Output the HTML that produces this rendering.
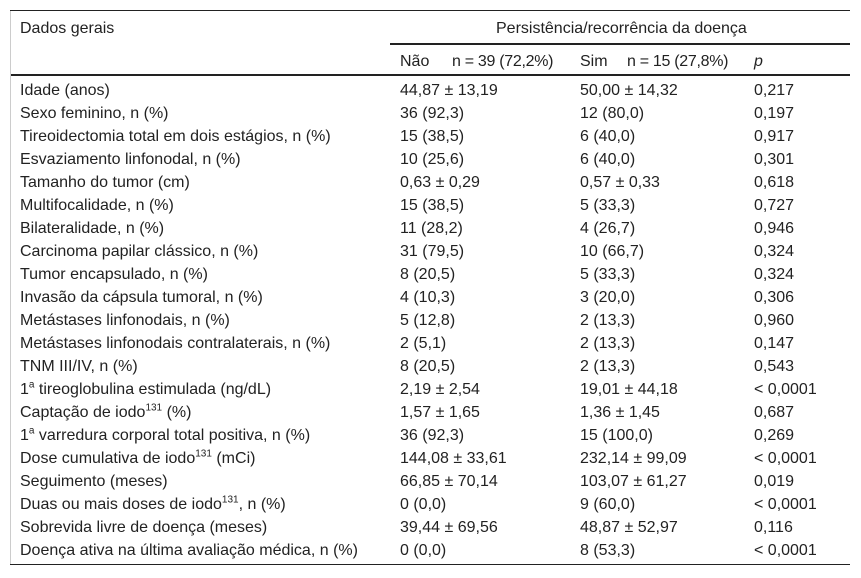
<!DOCTYPE html>
<html><head><meta charset="utf-8"><style>
body{margin:0;width:861px;height:578px;background:#fff;font-family:"Liberation Sans",Arial,sans-serif;font-size:16px;color:#222;position:relative;overflow:hidden}
.ln{position:absolute;background:#222}
.t{position:absolute;white-space:nowrap;line-height:18px}
sup{font-size:10px;line-height:0}
</style></head><body>
<div class="ln" style="left:10px;top:10px;width:840px;height:1px"></div>
<div class="ln" style="left:390px;top:43px;width:460px;height:2px"></div>
<div class="ln" style="left:10px;top:74px;width:840px;height:2px"></div>
<div class="ln" style="left:10px;top:564px;width:840px;height:1px"></div>
<div class="ln" style="left:10px;top:11px;width:1px;height:553px;background:#ccc"></div>
<div class="t" style="left:20px;top:20px">Dados gerais</div>
<div class="t" style="left:496px;top:20px">Persistência/recorrência da doença</div>
<div class="t" style="left:400px;top:53px">Não</div>
<div class="t" style="left:452px;top:53px;letter-spacing:-0.3px">n = 39 (72,2%)</div>
<div class="t" style="left:580px;top:53px">Sim</div>
<div class="t" style="left:627px;top:53px;letter-spacing:-0.3px">n = 15 (27,8%)</div>
<div class="t" style="left:754px;top:53px"><i>p</i></div>
<div id="rows"></div>
<script>
const labels=["Idade (anos)","Sexo feminino, n (%)","Tireoidectomia total em dois estágios, n (%)","Esvaziamento linfonodal, n (%)","Tamanho do tumor (cm)","Multifocalidade, n (%)","Bilateralidade, n (%)","Carcinoma papilar clássico, n (%)","Tumor encapsulado, n (%)","Invasão da cápsula tumoral, n (%)","Metástases linfonodais, n (%)","Metástases linfonodais contralaterais, n (%)","TNM III/IV, n (%)","1<sup>a</sup> tireoglobulina estimulada (ng/dL)","Captação de iodo<sup>131</sup> (%)","1<sup>a</sup> varredura corporal total positiva, n (%)","Dose cumulativa de iodo<sup>131</sup> (mCi)","Seguimento (meses)","Duas ou mais doses de iodo<sup>131</sup>, n (%)","Sobrevida livre de doença (meses)","Doença ativa na última avaliação médica, n (%)"];
const nao=["44,87 ± 13,19","36 (92,3)","15 (38,5)","10 (25,6)","0,63 ± 0,29","15 (38,5)","11 (28,2)","31 (79,5)","8 (20,5)","4 (10,3)","5 (12,8)","2 (5,1)","8 (20,5)","2,19 ± 2,54","1,57 ± 1,65","36 (92,3)","144,08 ± 33,61","66,85 ± 70,14","0 (0,0)","39,44 ± 69,56","0 (0,0)"];
const sim=["50,00 ± 14,32","12 (80,0)","6 (40,0)","6 (40,0)","0,57 ± 0,33","5 (33,3)","4 (26,7)","10 (66,7)","5 (33,3)","3 (20,0)","2 (13,3)","2 (13,3)","2 (13,3)","19,01 ± 44,18","1,36 ± 1,45","15 (100,0)","232,14 ± 99,09","103,07 ± 61,27","9 (60,0)","48,87 ± 52,97","8 (53,3)"];
const pv=["0,217","0,197","0,917","0,301","0,618","0,727","0,946","0,324","0,324","0,306","0,960","0,147","0,543","< 0,0001","0,687","0,269","< 0,0001","0,019","< 0,0001","0,116","< 0,0001"];
const root=document.getElementById('rows');
labels.forEach((l,i)=>{
 const y=82+i*23;
 [[l,20],[nao[i],400],[sim[i],580],[pv[i],754]].forEach((c,j)=>{
  const d=document.createElement('div');
  d.className='t';d.style.left=c[1]+'px';d.style.top=y+'px';d.innerHTML=c[0];
  
  
  root.appendChild(d);
 });
});
</script>
</body></html>
